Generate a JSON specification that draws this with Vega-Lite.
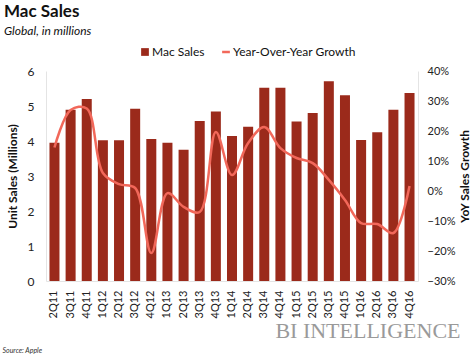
{
  "$schema": "https://vega.github.io/schema/vega-lite/v6.json",
  "width": 372,
  "height": 210,
  "autosize": {"type": "none"},
  "padding": {"left": 46, "top": 71, "right": 56, "bottom": 74},
  "background": "white",
  "config": {
    "font": "Lato",
    "view": {"stroke": null},
    "axis": {"labelFont": "Lato", "titleFont": "Lato", "labelColor": "#222", "titleColor": "#111"}
  },
  "title": {
    "text": "Mac Sales",
    "subtitle": "Global, in millions",
    "anchor": "start",
    "frame": "group",
    "dx": -42,
    "offset": 8,
    "fontSize": 17,
    "fontWeight": "bold",
    "font": "Lato",
    "color": "#111",
    "subtitleFont": "Lato",
    "subtitleFontSize": 12,
    "subtitleFontStyle": "italic",
    "subtitleColor": "#111",
    "subtitlePadding": 5
  },
  "data": {
    "values": [
      {"q": "2Q11", "sales": 3.95, "growth": 0.145, "s1": "Mac Sales", "s2": "Year-Over-Year Growth"},
      {"q": "3Q11", "sales": 4.89, "growth": 0.27, "s1": "Mac Sales", "s2": "Year-Over-Year Growth"},
      {"q": "4Q11", "sales": 5.2, "growth": 0.275, "s1": "Mac Sales", "s2": "Year-Over-Year Growth"},
      {"q": "1Q12", "sales": 4.02, "growth": 0.06, "s1": "Mac Sales", "s2": "Year-Over-Year Growth"},
      {"q": "2Q12", "sales": 4.02, "growth": 0.023, "s1": "Mac Sales", "s2": "Year-Over-Year Growth"},
      {"q": "3Q12", "sales": 4.92, "growth": 0.01, "s1": "Mac Sales", "s2": "Year-Over-Year Growth"},
      {"q": "4Q12", "sales": 4.06, "growth": -0.207, "s1": "Mac Sales", "s2": "Year-Over-Year Growth"},
      {"q": "1Q13", "sales": 3.95, "growth": -0.007, "s1": "Mac Sales", "s2": "Year-Over-Year Growth"},
      {"q": "2Q13", "sales": 3.75, "growth": -0.053, "s1": "Mac Sales", "s2": "Year-Over-Year Growth"},
      {"q": "3Q13", "sales": 4.57, "growth": -0.07, "s1": "Mac Sales", "s2": "Year-Over-Year Growth"},
      {"q": "4Q13", "sales": 4.84, "growth": 0.197, "s1": "Mac Sales", "s2": "Year-Over-Year Growth"},
      {"q": "1Q14", "sales": 4.14, "growth": 0.053, "s1": "Mac Sales", "s2": "Year-Over-Year Growth"},
      {"q": "2Q14", "sales": 4.41, "growth": 0.16, "s1": "Mac Sales", "s2": "Year-Over-Year Growth"},
      {"q": "3Q14", "sales": 5.52, "growth": 0.213, "s1": "Mac Sales", "s2": "Year-Over-Year Growth"},
      {"q": "4Q14", "sales": 5.52, "growth": 0.143, "s1": "Mac Sales", "s2": "Year-Over-Year Growth"},
      {"q": "1Q15", "sales": 4.56, "growth": 0.11, "s1": "Mac Sales", "s2": "Year-Over-Year Growth"},
      {"q": "2Q15", "sales": 4.8, "growth": 0.093, "s1": "Mac Sales", "s2": "Year-Over-Year Growth"},
      {"q": "3Q15", "sales": 5.71, "growth": 0.037, "s1": "Mac Sales", "s2": "Year-Over-Year Growth"},
      {"q": "4Q15", "sales": 5.31, "growth": -0.03, "s1": "Mac Sales", "s2": "Year-Over-Year Growth"},
      {"q": "1Q16", "sales": 4.03, "growth": -0.107, "s1": "Mac Sales", "s2": "Year-Over-Year Growth"},
      {"q": "2Q16", "sales": 4.25, "growth": -0.11, "s1": "Mac Sales", "s2": "Year-Over-Year Growth"},
      {"q": "3Q16", "sales": 4.89, "growth": -0.14, "s1": "Mac Sales", "s2": "Year-Over-Year Growth"},
      {"q": "4Q16", "sales": 5.37, "growth": 0.017, "s1": "Mac Sales", "s2": "Year-Over-Year Growth"}
    ]
  },
  "encoding": {
    "x": {
      "field": "q",
      "type": "nominal",
      "sort": null,
      "scale": {"paddingInner": 0.38, "paddingOuter": 0.215}
    }
  },
  "layer": [
    {
      "mark": {"type": "bar"},
      "encoding": {
        "x": {
          "field": "q",
          "type": "nominal",
          "sort": null,
          "axis": {
            "orient": "bottom",
            "labelAngle": -90,
            "labelFontSize": 11,
            "labelPadding": 9,
            "ticks": false,
            "domain": true,
            "domainColor": "#e4e4e4",
            "title": "BI INTELLIGENCE",
            "titleFont": "Liberation Serif",
            "titleFontSize": 22,
            "titleFontWeight": "normal",
            "titleColor": "#9a9a9a",
            "titleAnchor": "end",
            "titleAlign": "right",
            "titleBaseline": "alphabetic",
            "titleX": 414,
            "titleY": 56
          }
        },
        "y": {
          "field": "sales",
          "type": "quantitative",
          "scale": {"domain": [0, 6]},
          "axis": {
            "orient": "left",
            "values": [0, 1, 2, 3, 4, 5, 6],
            "grid": false,
            "ticks": false,
            "domain": true,
            "domainColor": "#e4e4e4",
            "labelFontSize": 12,
            "labelPadding": 12,
            "labelOverlap": false,
            "title": "Unit Sales (Millions)",
            "titleFontSize": 12,
            "titleFontWeight": "bold",
            "titlePadding": 8
          }
        },
        "color": {
          "field": "s1",
          "type": "nominal",
          "scale": {"domain": ["Mac Sales", "Year-Over-Year Growth"], "range": ["#9b2a1b", "#f2685a"]},
          "legend": {
            "orient": "none",
            "legendX": 93,
            "legendY": -25,
            "direction": "horizontal",
            "title": null,
            "labelFontSize": 12,
            "labelColor": "#111",
            "labelOffset": 1,
            "symbolSize": 60,
            "columnPadding": 12,
            "padding": 0,
            "encode": {
              "symbols": {
                "update": {
                  "shape": {"signal": "datum.label == 'Mac Sales' ? 'square' : 'stroke'"},
                  "fill": {"signal": "datum.label == 'Mac Sales' ? '#9b2a1b' : 'transparent'"},
                  "stroke": {"signal": "datum.label == 'Mac Sales' ? 'transparent' : '#f2685a'"},
                  "strokeWidth": {"signal": "datum.label == 'Mac Sales' ? 0 : 2.5"}
                }
              }
            }
          }
        }
      }
    },
    {
      "layer": [
        {
          "mark": {"type": "line", "interpolate": "catmull-rom", "strokeWidth": 2.5, "color": "#f2685a"},
          "encoding": {
            "x": {"field": "q", "type": "nominal", "sort": null, "axis": {"orient": "bottom", "labels": false, "ticks": false, "domain": false, "title": "Source: Apple", "titleFont": "Lato", "titleFontSize": 7, "titleFontStyle": "italic", "titleFontWeight": "normal", "titleColor": "#333", "titleAnchor": "start", "titleAlign": "left", "titleBaseline": "alphabetic", "titleX": -44, "titleY": 71}},
            "y": {
              "field": "growth",
              "type": "quantitative",
              "scale": {"domain": [-0.3, 0.4]},
              "axis": {
                "orient": "right",
                "format": ".0%",
                "values": [-0.3, -0.2, -0.1, 0, 0.1, 0.2, 0.3, 0.4],
                "labelOverlap": false,
                "labelFlush": false,
                "grid": false,
                "ticks": false,
                "domain": true,
                "domainColor": "#e4e4e4",
                "labelFontSize": 11,
                "labelPadding": 9,
                "title": "YoY Sales Growth",
                "titleAngle": 270,
                "titleBaseline": "top",
                "titleFontSize": 12,
                "titleFontWeight": "bold",
                "titlePadding": 5
              }
            },
            "color": {"field": "s2", "type": "nominal", "legend": null}
          }
        },
        {
          "mark": {"type": "rule", "color": "#222", "strokeDash": [4, 3], "strokeWidth": 1.3},
          "encoding": {
            "y": {
              "datum": 0,
              "type": "quantitative",
              "axis": {
                "orient": "right",
                "format": ".0%",
                "values": [-0.3, -0.2, -0.1, 0, 0.1, 0.2, 0.3, 0.4],
                "labelOverlap": false,
                "labelFlush": false,
                "grid": false,
                "ticks": false,
                "domain": true,
                "domainColor": "#e4e4e4",
                "labelFontSize": 11,
                "labelPadding": 9,
                "title": "YoY Sales Growth",
                "titleAngle": 270,
                "titleBaseline": "top",
                "titleFontSize": 12,
                "titleFontWeight": "bold",
                "titlePadding": 5
              }
            }
          }
        }
      ]
    }
  ],
  "resolve": {"scale": {"y": "independent"}, "axis": {"x": "independent"}}
}
